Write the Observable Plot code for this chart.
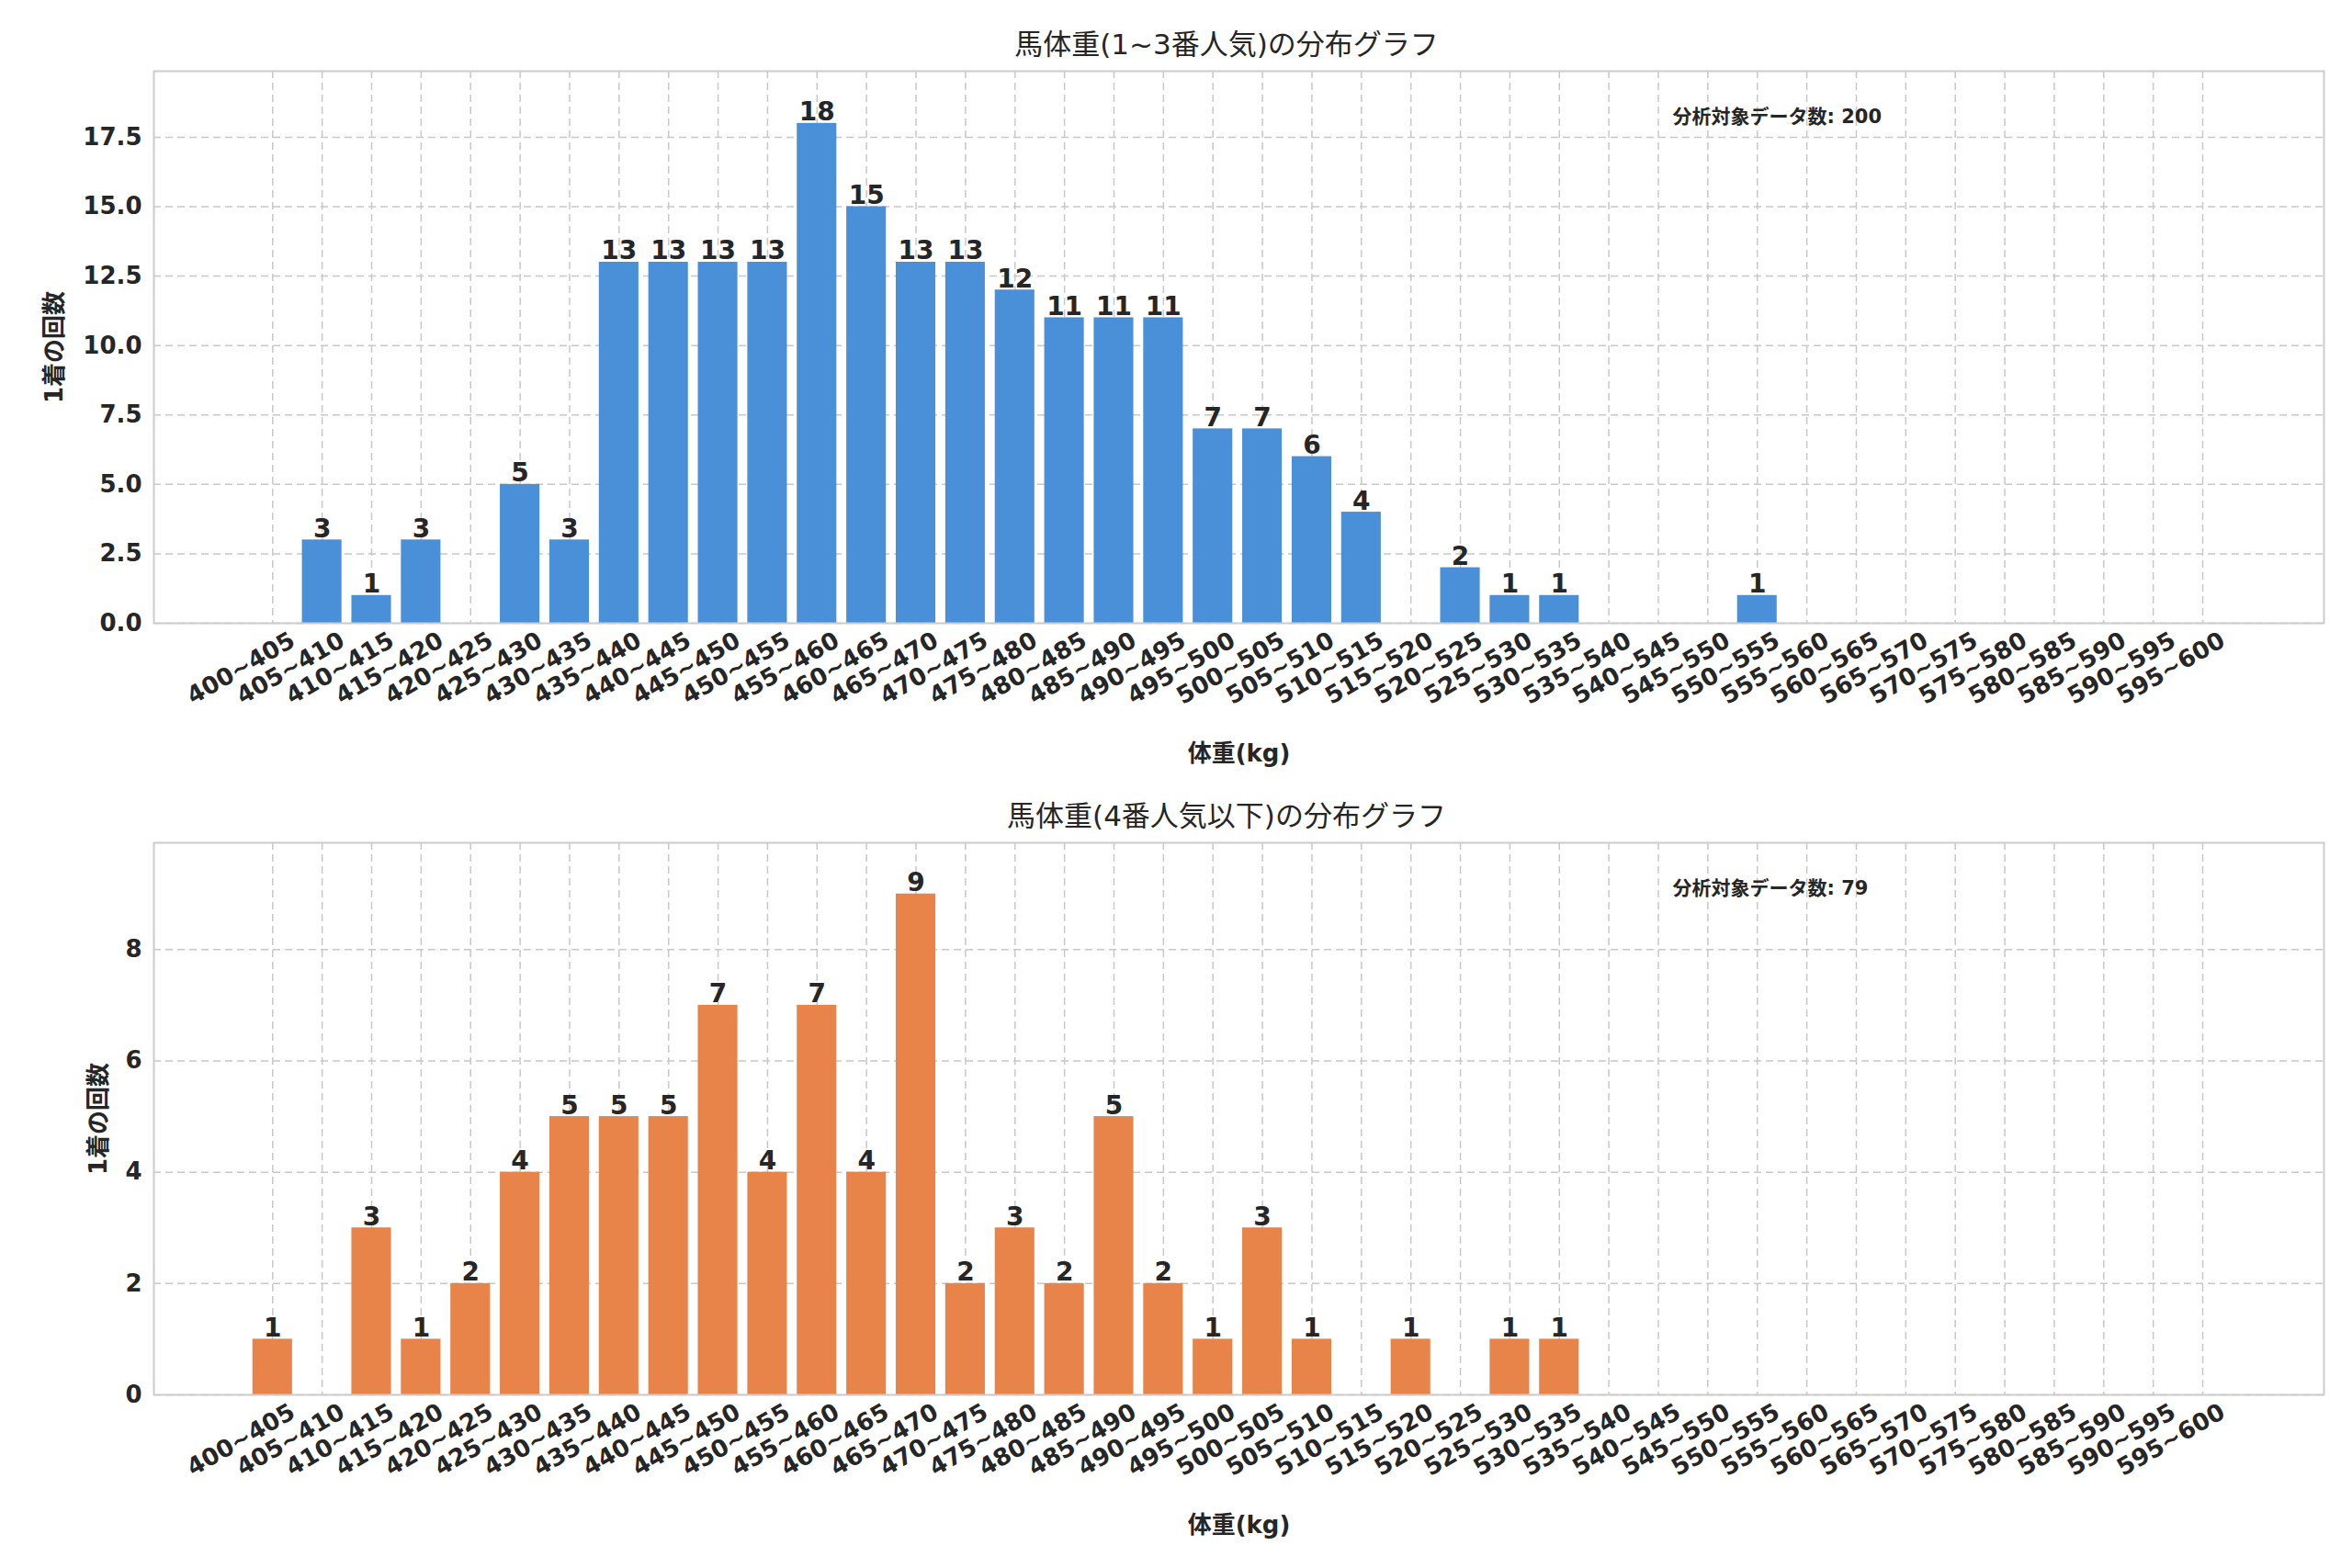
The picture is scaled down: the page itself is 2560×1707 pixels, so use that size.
<!DOCTYPE html>
<html><head><meta charset="utf-8">
<script src="https://cdn.jsdelivr.net/npm/d3@7"></script>
<script src="https://cdn.jsdelivr.net/npm/@observablehq/plot@0.6"></script>
<style>
body{margin:0;background:#fff;font-family:"DejaVu Sans","Noto Sans CJK JP",sans-serif;color:#262626}
.t{text-align:center;font-size:31px;height:40px;line-height:40px;padding-left:110px}
</style></head><body>
<div id="c"></div>
<script>
const bins = d3.range(40).map(i => `${400+5*i}~${405+5*i}`);
const topCounts = [0,3,1,3,0,5,3,13,13,13,13,18,15,13,13,12,11,11,11,7,7,6,4,0,2,1,1,0,0,0,1,0,0,0,0,0,0,0,0,0];
const lowCounts = [1,0,3,1,2,4,5,5,5,7,4,7,4,9,2,3,2,5,2,1,3,1,0,1,0,1,1,0,0,0,0,0,0,0,0,0,0,0,0,0];
const titles = ["馬体重(1~3番人気)の分布グラフ","馬体重(4番人気以下)の分布グラフ"];
const totals = [200, 79];
const colors = ["#4a90d9","#e8834a"];
const yTops = [19.88, 9.92];
const yTicks = [d3.range(0,18,2.5), d3.range(0,9,2)];
const yLabelOffsets = [118, 70];

const c = document.getElementById("c");
[topCounts, lowCounts].forEach((vals, k) => {
  const t = document.createElement("div");
  t.className = "t"; t.style.marginTop = k ? "20px" : "28px"; t.textContent = titles[k];
  c.appendChild(t);
  const data = vals.map((v,i)=>({i, v}));
  const bars = data.filter(d=>d.v>0);
  const p = Plot.plot({
    width: 2560, height: 780,
    marginLeft: 167, marginRight: 31, marginTop: 9, marginBottom: 170,
    style: {fontFamily: "DejaVu Sans, Noto Sans CJK JP, sans-serif", fontWeight: "bold", color: "#262626"},
    x: {domain: [-2.4, 41.45]},
    y: {domain: [0, yTops[k]]},
    marks: [
      Plot.gridX(d3.range(40), {stroke: "#c8c8c8", strokeOpacity: 1, strokeDasharray: "8,5", strokeWidth: 1.5}),
      Plot.gridY(yTicks[k], {stroke: "#c8c8c8", strokeOpacity: 1, strokeDasharray: "8,5", strokeWidth: 1.5}),
      Plot.rectY(bars, {x1: d=>d.i-0.4, x2: d=>d.i+0.4, y: "v", fill: colors[k]}),
      Plot.text(bars, {x: "i", y: "v", text: d=>String(d.v), dy: -12, fontSize: 28, fontWeight: "bold", fill: "#262626"}),
      Plot.text([`分析対象データ数: ${totals[k]}`], {frameAnchor: "top-left", dx: 1653, dy: 42, textAnchor: "start", fontSize: 21, fontWeight: "bold", fill: "#262626"}),
      Plot.axisX(d3.range(40), {tickFormat: i => bins[i], tickRotate: -30, tickSize: 0, fontSize: 24, fontWeight: "bold", textAnchor: "end", dx: 22, dy: 4,
        label: "体重(kg)", labelAnchor: "center", labelOffset: 150, labelArrow: false}),
      Plot.axisY(yTicks[k], {tickFormat: d => k ? d3.format("d")(d) : d3.format(".1f")(d), tickSize: 0, fontSize: 25, fontWeight: "bold", dx: -4,
        label: "1着の回数", labelAnchor: "center", labelOffset: yLabelOffsets[k], labelArrow: false}),
      Plot.frame({stroke: "#cccccc", strokeWidth: 2})
    ]
  });
  p.querySelectorAll("[aria-label$='label'] text, g[aria-label='x-axis label'] text, g[aria-label='y-axis label'] text").forEach(e=>e.style.fontSize="26px");
  c.appendChild(p);
});
</script></body></html>
